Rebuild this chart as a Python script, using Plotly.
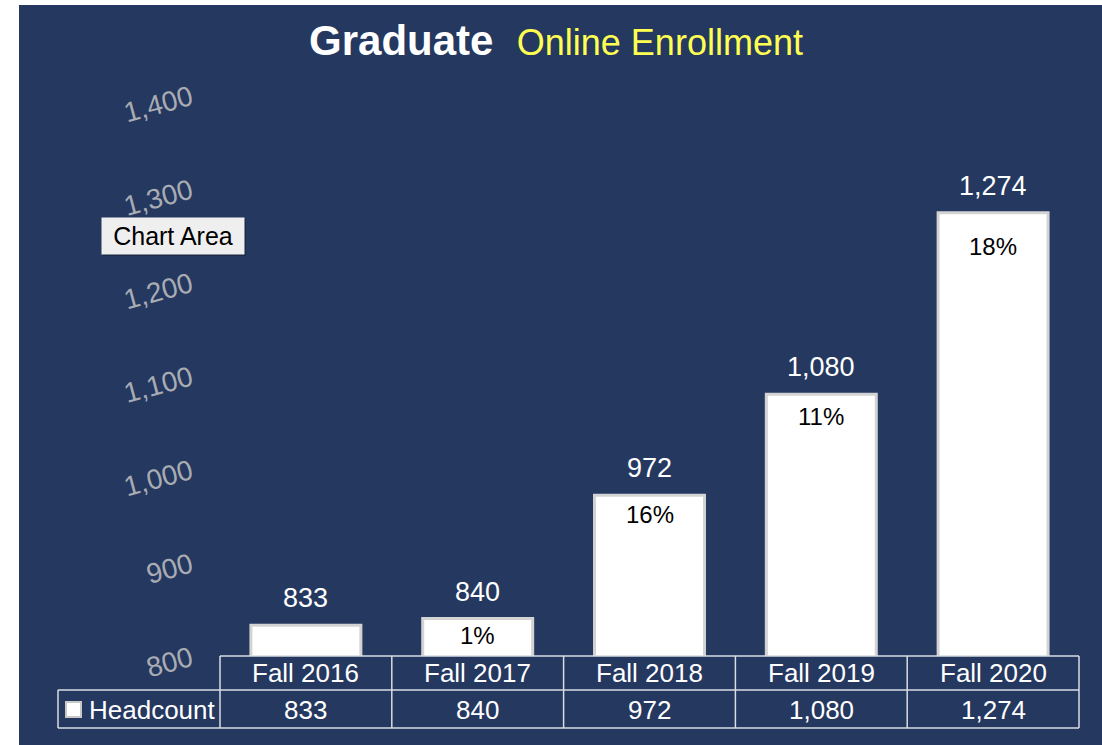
import plotly.graph_objects as go

# ---- data ----
categories = ["Fall 2016", "Fall 2017", "Fall 2018", "Fall 2019", "Fall 2020"]
headcount = [833, 840, 972, 1080, 1274]
pct_labels = ["", "1%", "16%", "11%", "18%"]
series_name = "Headcount"
y_ticks = [800, 900, 1000, 1100, 1200, 1300, 1400]

# ---- style ----
W, H = 1102, 745
L, R, T, B = 220, 23, 95, 89
PW, PH = W - L - R, H - T - B
NAVY = "#25385f"
LINE = "#d9dce3"
TICK_GREY = "#a9acb3"
FONT = "Liberation Sans, Arial, sans-serif"
pct_shift = [0, -1, -4, -7, -18]


def px_x(px):
    return (px - L) / PW


def px_y(py):
    return (H - B - py) / PH


fig = go.Figure()
fig.add_trace(go.Bar(
    x=categories, y=headcount, name=series_name,
    marker=dict(color="white", line=dict(color="#d3d3d3", width=3)),
    width=0.64, hoverinfo="skip", showlegend=False,
))

ann = []
# value labels above bars
for c, v in zip(categories, headcount):
    ann.append(dict(x=c, y=v, xref="x", yref="y", text=f"{v:,}", showarrow=False,
                    yanchor="bottom", yshift=10,
                    font=dict(family=FONT, size=27, color="white")))
# percent change labels inside bars
for c, v, p, s in zip(categories, headcount, pct_labels, pct_shift):
    if p:
        ann.append(dict(x=c, y=v, xref="x", yref="y", text=p, showarrow=False,
                        yanchor="top", yshift=s,
                        font=dict(family=FONT, size=24, color="black")))
# data table: header row (categories) and value row
for c, v in zip(categories, headcount):
    ann.append(dict(x=c, y=px_y(673), xref="x", yref="paper", text=c, showarrow=False,
                    yanchor="middle", font=dict(family=FONT, size=26, color="white")))
    ann.append(dict(x=c, y=px_y(710), xref="x", yref="paper", text=f"{v:,}", showarrow=False,
                    yanchor="middle", font=dict(family=FONT, size=26, color="white")))
ann.append(dict(x=px_x(87), y=px_y(710), xref="paper", yref="paper", text=series_name,
                showarrow=False, xanchor="left", yanchor="middle",
                font=dict(family=FONT, size=26, color="white")))
# "Chart Area" tooltip
ann.append(dict(x=px_x(173), y=px_y(236), xref="paper", yref="paper", text="Chart Area",
                showarrow=False, xanchor="center", yanchor="middle", width=134, height=28,
                bgcolor="#efefef", borderpad=4,
                font=dict(family=FONT, size=25, color="black")))

shapes = []
# white margin strips
shapes.append(dict(type="rect", xref="paper", yref="paper", x0=px_x(0), x1=px_x(19),
                   y0=px_y(0), y1=px_y(H), fillcolor="white", line=dict(width=0)))
shapes.append(dict(type="rect", xref="paper", yref="paper", x0=px_x(0), x1=px_x(W),
                   y0=px_y(0), y1=px_y(5), fillcolor="white", line=dict(width=0)))
# tooltip shadow
shapes.append(dict(type="rect", xref="paper", yref="paper", x0=px_x(103), x1=px_x(246),
                   y0=px_y(219), y1=px_y(256), fillcolor="rgba(0,0,0,0.25)",
                   line=dict(width=0), layer="below"))
# table lines
lw = 1.5
ytop, ymid, ybot = 656, 690, 728
shapes.append(dict(type="line", xref="paper", yref="paper", x0=0, x1=1,
                   y0=px_y(ytop), y1=px_y(ytop), line=dict(color=LINE, width=lw)))
for yy in (ymid, ybot):
    shapes.append(dict(type="line", xref="paper", yref="paper", x0=px_x(58), x1=1,
                       y0=px_y(yy), y1=px_y(yy), line=dict(color=LINE, width=lw)))
shapes.append(dict(type="line", xref="paper", yref="paper", x0=px_x(58), x1=px_x(58),
                   y0=px_y(ymid), y1=px_y(ybot), line=dict(color=LINE, width=lw)))
for i in range(len(categories) + 1):
    xx = i / len(categories)
    shapes.append(dict(type="line", xref="paper", yref="paper", x0=xx, x1=xx,
                       y0=px_y(ytop), y1=px_y(ybot), line=dict(color=LINE, width=lw)))
# legend key square
shapes.append(dict(type="rect", xref="paper", yref="paper", x0=px_x(66), x1=px_x(81),
                   y0=px_y(702), y1=px_y(717), fillcolor="white",
                   line=dict(color="#c8c8c8", width=2)))

fig.update_layout(
    width=W, height=H,
    margin=dict(l=L, r=R, t=T, b=B, pad=0),
    paper_bgcolor=NAVY, plot_bgcolor=NAVY,
    title=dict(
        text="<b>Graduate</b>  <span style='font-size:36px;color:#ffff52'>Online Enrollment</span>",
        x=556 / W, xanchor="center", y=1 - 40 / H, yanchor="middle",
        font=dict(family=FONT, size=42, color="white"),
    ),
    xaxis=dict(range=[-0.5, len(categories) - 0.5], showticklabels=False, showgrid=False,
               zeroline=False, showline=False, ticks=""),
    yaxis=dict(range=[800, 1400], tickvals=y_ticks, ticktext=[f"{t:,}" for t in y_ticks],
               tickangle=-15, showgrid=False, zeroline=False, showline=False, ticks="",
               ticklabelstandoff=28,
               tickfont=dict(family=FONT, size=28, color=TICK_GREY)),
    annotations=ann, shapes=shapes, showlegend=False,
    bargap=0.36,
)

fig.write_html("out.html", config={"displayModeBar": False},
               post_script="document.body.style.margin='0';")
